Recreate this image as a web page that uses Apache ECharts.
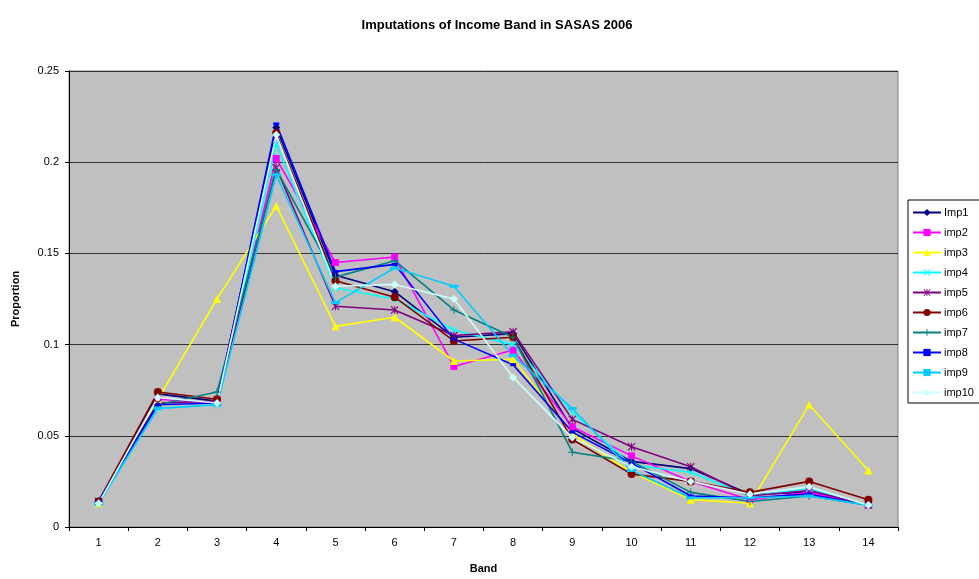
<!DOCTYPE html>
<html>
<head>
<meta charset="utf-8">
<script src="https://cdn.jsdelivr.net/npm/echarts@6/dist/echarts.min.js"></script>
<style>
  html, body { margin: 0; padding: 0; background: #fff; }
  #chart { width: 979px; height: 579px; }
</style>
</head>
<body>
<div id="chart"></div>
<script>
// income bands on the x axis
var bands = ['1', '2', '3', '4', '5', '6', '7', '8', '9', '10', '11', '12', '13', '14'];
var yTicks = [0, 0.05, 0.1, 0.15, 0.2, 0.25];

// proportions per imputation
var imp1  = [0.014, 0.073, 0.069, 0.219, 0.138, 0.129, 0.104, 0.106, 0.054, 0.036, 0.032, 0.018, 0.019, 0.012];
var imp2  = [0.014, 0.070, 0.068, 0.202, 0.145, 0.148, 0.088, 0.097, 0.055, 0.039, 0.025, 0.015, 0.019, 0.012];
var imp3  = [0.013, 0.070, 0.125, 0.176, 0.110, 0.115, 0.091, 0.092, 0.051, 0.030, 0.015, 0.013, 0.067, 0.031];
var imp4  = [0.013, 0.065, 0.067, 0.210, 0.131, 0.125, 0.108, 0.100, 0.063, 0.034, 0.030, 0.017, 0.021, 0.012];
var imp5  = [0.014, 0.068, 0.069, 0.197, 0.121, 0.119, 0.105, 0.107, 0.059, 0.044, 0.033, 0.017, 0.020, 0.012];
var imp6  = [0.014, 0.074, 0.070, 0.216, 0.135, 0.126, 0.102, 0.104, 0.048, 0.029, 0.025, 0.019, 0.025, 0.015];
var imp7  = [0.013, 0.067, 0.074, 0.196, 0.137, 0.146, 0.119, 0.104, 0.041, 0.036, 0.019, 0.014, 0.017, 0.012];
var imp8  = [0.014, 0.067, 0.068, 0.221, 0.140, 0.144, 0.103, 0.089, 0.052, 0.035, 0.017, 0.016, 0.018, 0.012];
var imp9  = [0.013, 0.065, 0.067, 0.193, 0.123, 0.142, 0.132, 0.094, 0.065, 0.031, 0.016, 0.016, 0.017, 0.012];
var imp10 = [0.013, 0.071, 0.068, 0.215, 0.132, 0.133, 0.125, 0.082, 0.049, 0.033, 0.025, 0.018, 0.022, 0.012];

var FONT = '"Liberation Sans", Arial, sans-serif';

// marker shapes (excel style)
var crossX = 'path://M0,1L1,0L10,9L9,10Z M9,0L10,1L1,10L0,9Z';
var plus = 'path://M4.4,0H5.6V4.4H10V5.6H5.6V10H4.4V5.6H0V4.4H4.4Z';
var star = 'path://M4.4,0H5.6V10H4.4Z M0,1L1,0L10,9L9,10Z M9,0L10,1L1,10L0,9Z';

function mk(name, data, color, symbol, size) {
    return {
        name: name,
        type: 'line',
        data: data,
        symbol: symbol,
        symbolSize: size,
        showAllSymbol: true,
        lineStyle: { color: color, width: 1.6 },
        itemStyle: { color: color, borderWidth: 0 },
        emphasis: { disabled: true },
        animation: false
    };
}

var series = [
    mk('Imp1', imp1, '#000080', 'diamond', 8),
    mk('imp2', imp2, '#FF00FF', 'rect', 7),
    mk('imp3', imp3, '#FFFF00', 'triangle', 8),
    mk('imp4', imp4, '#00FFFF', crossX, 7),
    mk('imp5', imp5, '#800080', star, 8),
    mk('imp6', imp6, '#800000', 'circle', 8),
    mk('imp7', imp7, '#008080', plus, 8),
    mk('imp8', imp8, '#0000FF', 'rect', [6, 3]),
    mk('imp9', imp9, '#00CCFF', 'rect', [9, 3]),
    mk('imp10', imp10, '#CCFFFF', 'diamond', 8)
];

var chart = echarts.init(document.getElementById('chart'));
chart.setOption({
    backgroundColor: '#fff',
    animation: false,
    title: {
        text: 'Imputations of Income Band in SASAS 2006',
        left: 492,
        textAlign: 'center',
        top: 14,
        textStyle: { fontFamily: FONT, fontSize: 13, fontWeight: 'bold', color: '#000' }
    },
    legend: {
        orient: 'vertical',
        left: 908,
        top: 200,
        itemWidth: 28,
        itemHeight: 9,
        itemGap: 9,
        padding: [7, 40, 5, 4],
        borderColor: '#000',
        borderWidth: 1,
        backgroundColor: '#fff',
        textStyle: { fontFamily: FONT, fontSize: 11, color: '#000', padding: [0, 0, 0, -2] },
        data: series.map(function (s) { return s.name; })
    },
    grid: {
        left: 69,
        right: 81,
        top: 71,
        bottom: 47,
        show: true,
        backgroundColor: '#C0C0C0',
        borderColor: '#808080',
        borderWidth: 1
    },
    xAxis: {
        type: 'category',
        data: bands,
        boundaryGap: true,
        name: 'Band',
        nameLocation: 'middle',
        nameGap: 36,
        nameTextStyle: { fontFamily: FONT, fontSize: 11, fontWeight: 'bold', color: '#000' },
        axisLine: { lineStyle: { color: '#000', width: 1 } },
        axisTick: { show: true, alignWithLabel: false, length: 4, lineStyle: { color: '#000' } },
        axisLabel: { fontFamily: FONT, fontSize: 11, color: '#000', margin: 10 },
        splitLine: { show: false }
    },
    yAxis: {
        type: 'value',
        min: yTicks[0],
        max: yTicks[yTicks.length - 1],
        interval: 0.05,
        name: 'Proportion',
        nameLocation: 'middle',
        nameGap: 48,
        nameTextStyle: { fontFamily: FONT, fontSize: 11, fontWeight: 'bold', color: '#000' },
        axisLine: { show: true, lineStyle: { color: '#000', width: 1 } },
        axisTick: { show: true, length: 4, lineStyle: { color: '#000' } },
        axisLabel: {
            fontFamily: FONT, fontSize: 11, color: '#000', margin: 10,
            formatter: function (v) { return String(+v.toFixed(2)); }
        },
        splitLine: { show: true, lineStyle: { color: '#333', width: 1 } }
    },
    series: series
});
</script>
</body>
</html>
